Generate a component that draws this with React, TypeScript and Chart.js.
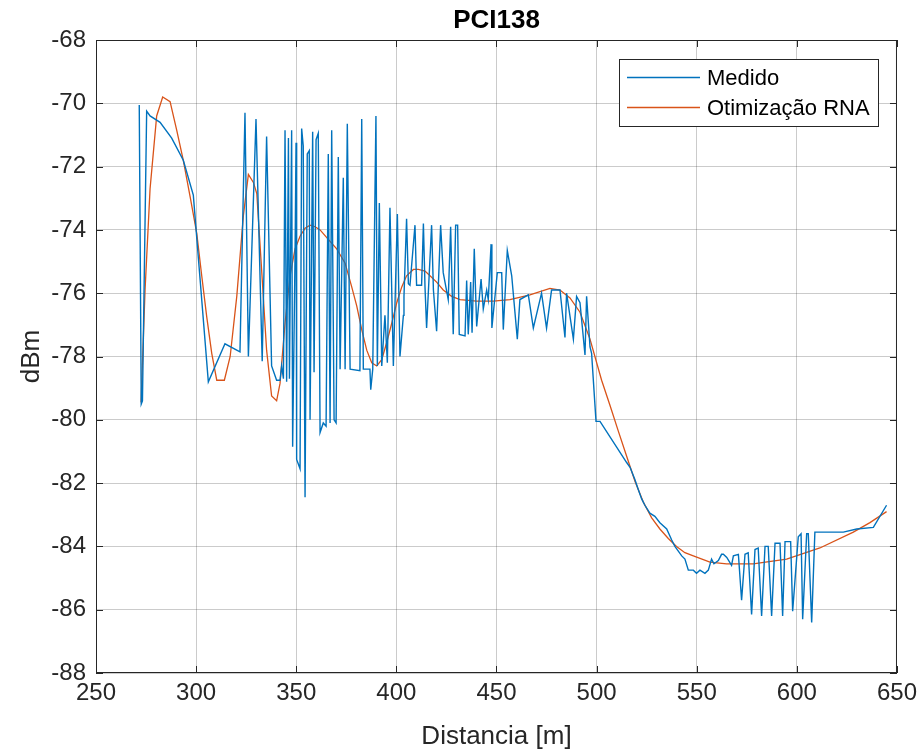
import { useEffect, useRef } from "react";
import { Chart, registerables } from "chart.js";

Chart.register(...registerables);

const chartTitle = "PCI138";
const xAxisTitle = "Distancia [m]";
const yAxisTitle = "dBm";
const medidoLabel = "Medido";
const rnaLabel = "Otimização RNA";

const xTickValues = [250, 300, 350, 400, 450, 500, 550, 600, 650];
const yTickValues = [-88, -86, -84, -82, -80, -78, -76, -74, -72, -70, -68];

const medidoDist = [
  271.6, 272.6, 273.2, 275.3, 277.0, 282.0, 287.8, 293.6, 298.6, 306.1, 314.4, 321.9, 324.4, 326.1, 329.9,
  333.0, 335.2, 337.7, 340.2, 341.9, 342.7, 343.6, 344.4, 345.2, 346.1, 346.6, 347.7, 348.2, 349.4, 349.9,
  350.2, 351.9, 352.7, 353.5, 354.4, 355.5, 356.5, 356.9, 358.2, 358.9, 359.9, 361.0, 361.9, 363.5, 364.9,
  366.0, 366.9, 367.7, 368.9, 369.9, 371.0, 371.9, 373.5, 374.4, 375.5, 376.9, 381.8, 382.7, 383.5, 386.8,
  387.2, 388.2, 389.3, 389.8, 390.5, 391.5, 392.7, 394.3, 395.5, 396.8, 398.5, 400.5, 401.8, 403.5, 403.8,
  405.1, 406.0, 406.8, 409.3, 410.1, 412.6, 413.5, 414.3, 415.1, 417.6, 418.5, 420.1, 422.1, 423.4, 425.9,
  427.1, 428.4, 429.6, 430.6, 431.4, 434.3, 435.1, 435.9, 437.1, 437.8, 438.9, 440.1, 442.3, 443.4, 445.1,
  445.9, 447.3, 447.7, 450.4, 452.6, 453.4, 455.4, 457.6, 460.4, 461.7, 465.9, 468.4, 472.5, 475.0, 477.5,
  480.0, 481.7, 484.2, 485.0, 488.4, 490.0, 491.7, 494.2, 495.0, 496.7, 497.5, 499.7, 501.7, 515.0, 516.7,
  519.2, 520.8, 522.5, 524.1, 526.6, 529.1, 531.6, 535.0, 537.5, 539.1, 542.5, 544.1, 545.8, 548.3, 549.9,
  551.6, 554.1, 555.8, 557.4, 558.6, 560.8, 562.4, 563.3, 565.0, 567.4, 568.3, 570.8, 572.4, 574.1, 575.7,
  577.4, 579.1, 580.7, 582.4, 584.1, 585.7, 587.4, 589.1, 591.6, 592.9, 594.1, 596.9, 597.9, 600.7, 602.1,
  602.9, 604.9, 605.7, 607.4, 609.0, 623.2, 629.9, 638.2, 644.8,
];
const medidoDbm = [
  -70.05, -79.5, -79.4, -70.25, -70.4, -70.6, -71.1, -71.8, -72.9, -78.8, -77.6, -77.85, -70.3, -78.0, -70.5,
  -78.15, -71.05, -78.3, -78.75, -78.75, -78.3, -78.7, -70.85, -78.8, -71.1, -78.7, -70.85, -80.85, -74.8, -71.25,
  -81.25, -81.55, -70.8, -71.35, -82.45, -71.6, -71.5, -80.0, -70.9, -78.5, -71.15, -70.95, -80.4, -80.1, -80.2,
  -71.6, -80.1, -70.85, -80.0, -80.1, -71.7, -78.4, -72.35, -78.4, -70.65, -78.4, -78.45, -70.5, -78.4, -78.4,
  -79.05, -78.4, -72.9, -70.4, -78.3, -73.15, -78.3, -76.7, -78.2, -73.3, -78.3, -73.5, -78.0, -76.7, -76.1,
  -73.65, -75.7, -75.75, -73.85, -75.75, -75.75, -73.8, -75.8, -77.1, -73.85, -75.9, -77.2, -73.85, -75.35, -76.2,
  -73.9, -77.3, -73.85, -73.85, -77.3, -77.35, -75.6, -77.3, -75.65, -77.25, -74.6, -77.05, -75.55, -76.5, -75.9,
  -76.2, -74.45, -77.1, -75.35, -75.35, -77.15, -74.65, -75.45, -77.45, -76.2, -76.05, -77.1, -76.0, -77.1, -75.9,
  -75.9, -75.9, -77.4, -76.0, -77.45, -76.1, -76.3, -77.95, -76.1, -77.7, -77.9, -80.05, -80.05, -81.35, -81.5,
  -81.9, -82.2, -82.5, -82.7, -82.95, -83.05, -83.25, -83.45, -83.8, -84.0, -84.3, -84.4, -84.75, -84.75, -84.85,
  -84.75, -84.85, -84.75, -84.4, -84.55, -84.45, -84.25, -84.25, -84.35, -84.6, -84.3, -84.25, -85.7, -84.25, -84.2,
  -86.15, -84.1, -84.05, -86.2, -84.0, -84.0, -86.2, -83.9, -83.9, -86.2, -83.85, -83.85, -86.05, -83.7, -83.6,
  -86.3, -83.6, -83.6, -86.4, -83.55, -83.55, -83.45, -83.4, -82.7,
];

const rnaDist = [
  272.5, 274.5, 277.0, 280.3, 283.3, 287.0, 290.3, 293.6, 297.0, 300.3, 302.8, 305.3, 307.8, 310.3, 314.1,
  317.0, 320.3, 323.6, 326.1, 328.6, 330.3, 332.8, 335.2, 337.7, 340.2, 341.9, 344.4, 346.9, 349.4, 351.9,
  354.4, 356.9, 359.4, 361.9, 366.0, 370.2, 374.4, 377.7, 380.2, 382.7, 385.2, 387.7, 390.2, 392.7, 395.2,
  397.7, 400.2, 402.7, 405.1, 408.5, 411.0, 414.3, 416.8, 420.1, 423.4, 427.6, 431.8, 440.1, 448.4, 456.7,
  466.7, 476.7, 481.7, 486.7, 491.7, 496.7, 502.5, 506.7, 510.8, 515.0, 519.2, 523.3, 527.5, 531.6, 535.8,
  539.9, 544.1, 548.3, 556.6, 564.9, 578.2, 594.9, 611.5, 628.2, 636.5, 644.8,
];
const rnaDbm = [
  -79.45, -75.9, -72.7, -70.4, -69.8, -69.95, -70.85, -71.8, -72.95, -74.1, -75.45, -76.75, -77.9, -78.75, -78.75,
  -78.0, -76.1, -73.55, -72.25, -72.5, -72.85, -75.35, -77.8, -79.25, -79.4, -78.85, -76.95, -75.45, -74.6, -74.2,
  -73.95, -73.85, -73.9, -74.0, -74.3, -74.6, -75.05, -75.8, -76.4, -77.15, -77.8, -78.2, -78.3, -78.1, -77.55,
  -76.95, -76.3, -75.8, -75.45, -75.25, -75.25, -75.3, -75.45, -75.65, -75.9, -76.1, -76.2, -76.25, -76.25, -76.2,
  -76.05, -75.85, -75.9, -76.15, -76.6, -77.45, -78.75, -79.55, -80.35, -81.15, -81.95, -82.6, -83.1, -83.45, -83.75,
  -84.0, -84.2, -84.3, -84.5, -84.55, -84.55, -84.4, -84.05, -83.55, -83.25, -82.9,
];

const BLUE = "#0072BD";
const ORANGE = "#D95319";
const AXIS = "#262626";
const GRID = "rgba(38,38,38,0.24)";
const FONT = "'Liberation Sans', Arial, Helvetica, sans-serif";

const decorPlugin = {
  id: "matlabDecor",
  afterDatasetsDraw(chart: any) {
    const { ctx, chartArea, scales } = chart;
    const { left, right, top, bottom } = chartArea;
    ctx.save();
    // frame
    ctx.strokeStyle = AXIS;
    ctx.lineWidth = 1;
    ctx.strokeRect(left + 0.5, top + 0.5, right - left - 1, bottom - top - 1);
    // inward ticks
    const tl = 7;
    ctx.beginPath();
    xTickValues.forEach((v) => {
      const px = Math.round(scales.x.getPixelForValue(v)) + 0.5;
      ctx.moveTo(px, bottom);
      ctx.lineTo(px, bottom - tl);
      ctx.moveTo(px, top);
      ctx.lineTo(px, top + tl);
    });
    yTickValues.forEach((v) => {
      const py = Math.round(scales.y.getPixelForValue(v)) + 0.5;
      ctx.moveTo(left, py);
      ctx.lineTo(left + tl, py);
      ctx.moveTo(right, py);
      ctx.lineTo(right - tl, py);
    });
    ctx.stroke();

    // legend
    const lx = 619, ly = 59, lw = 259, lh = 67;
    ctx.fillStyle = "#ffffff";
    ctx.fillRect(lx, ly, lw, lh);
    ctx.strokeStyle = AXIS;
    ctx.strokeRect(lx + 0.5, ly + 0.5, lw, lh);
    const rows = [
      { label: chart.data.datasets[0].label, color: BLUE, y: 77.5 },
      { label: chart.data.datasets[1].label, color: ORANGE, y: 107.5 },
    ];
    ctx.font = `22px ${FONT}`;
    ctx.textAlign = "left";
    ctx.textBaseline = "middle";
    rows.forEach((r) => {
      ctx.strokeStyle = r.color;
      ctx.lineWidth = 1.3;
      ctx.beginPath();
      ctx.moveTo(627, r.y);
      ctx.lineTo(700, r.y);
      ctx.stroke();
      ctx.fillStyle = "#000000";
      ctx.fillText(r.label, 707, r.y + 1);
    });

    // titles
    const cx = (left + right) / 2;
    ctx.fillStyle = "#000000";
    ctx.textAlign = "center";
    ctx.textBaseline = "middle";
    ctx.font = `bold 26px ${FONT}`;
    ctx.fillText(chartTitle, cx, 21);
    ctx.fillStyle = AXIS;
    ctx.font = `26px ${FONT}`;
    ctx.fillText(xAxisTitle, cx, 737);
    ctx.save();
    ctx.translate(32, (top + bottom) / 2);
    ctx.rotate(-Math.PI / 2);
    ctx.fillText(yAxisTitle, 0, 0);
    ctx.restore();
    ctx.restore();
  },
};

export default function App() {
  const ref = useRef<HTMLCanvasElement | null>(null);
  useEffect(() => {
    document.body.style.margin = "0";
    const canvas = ref.current;
    if (!canvas) return;
    const chart = new Chart(canvas, {
      type: "line",
      data: {
        datasets: [
          {
            label: medidoLabel,
            data: medidoDist.map((x, i) => ({ x, y: medidoDbm[i] })),
            borderColor: BLUE,
            borderWidth: 1.4,
            pointRadius: 0,
            tension: 0,
            fill: false,
          },
          {
            label: rnaLabel,
            data: rnaDist.map((x, i) => ({ x, y: rnaDbm[i] })),
            borderColor: ORANGE,
            borderWidth: 1.3,
            pointRadius: 0,
            tension: 0,
            fill: false,
          },
        ],
      },
      options: {
        animation: false,
        responsive: false,
        maintainAspectRatio: false,
        layout: { padding: { left: 0, right: 26, top: 40, bottom: 0 } },
        plugins: { legend: { display: false }, title: { display: false }, tooltip: { enabled: false } },
        scales: {
          x: {
            type: "linear",
            min: 250,
            max: 650,
            afterFit: (s: any) => {
              s.height = 80;
            },
            afterBuildTicks: (s: any) => {
              s.ticks = xTickValues.map((v) => ({ value: v }));
            },
            ticks: { color: AXIS, font: { family: FONT, size: 24 }, padding: 6, maxRotation: 0, autoSkip: false },
            grid: { color: GRID, lineWidth: 1, drawTicks: false },
            border: { display: false },
          },
          y: {
            type: "linear",
            min: -88,
            max: -68,
            afterFit: (s: any) => {
              s.width = 96;
            },
            afterBuildTicks: (s: any) => {
              s.ticks = yTickValues.map((v) => ({ value: v }));
            },
            ticks: { color: AXIS, font: { family: FONT, size: 24 }, padding: 10, autoSkip: false },
            grid: { color: GRID, lineWidth: 1, drawTicks: false },
            border: { display: false },
          },
        },
      },
      plugins: [decorPlugin],
    });
    return () => chart.destroy();
  }, []);
  return (
    <div style={{ width: 923, height: 753 }}>
      <canvas ref={ref} width={923} height={753} style={{ display: "block", width: 923, height: 753 }} />
    </div>
  );
}
